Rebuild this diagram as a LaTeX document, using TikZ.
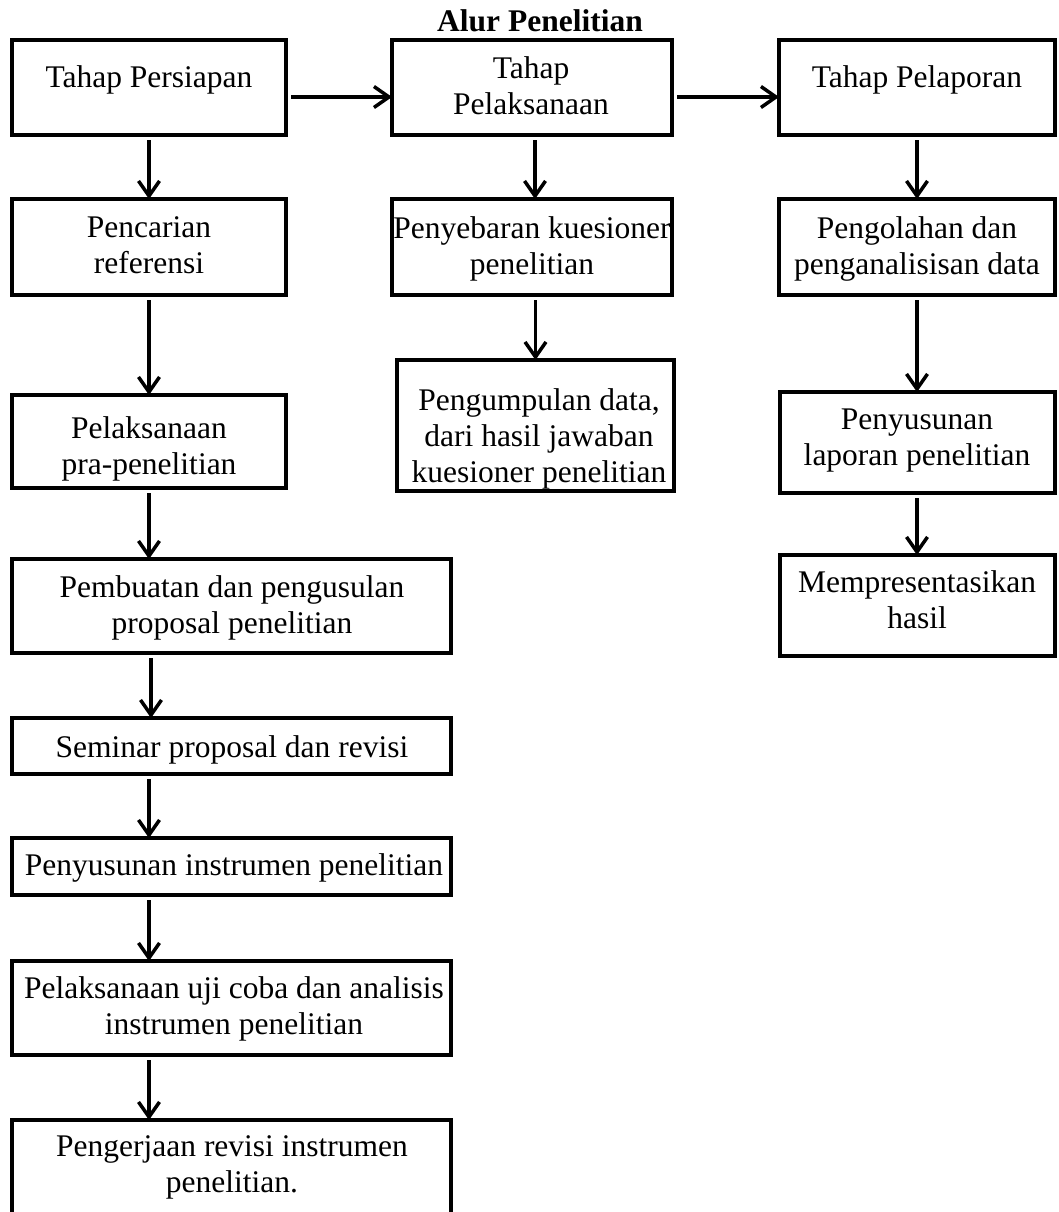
\documentclass[tikz,border=0pt]{standalone}
\usepackage{fontspec}
\setmainfont{Liberation Serif}
\usetikzlibrary{arrows.meta}
\begin{document}
\begin{tikzpicture}[x=1pt,y=-1pt,
  box/.style={draw, line width=4pt, inner sep=0pt, outer sep=0pt, rectangle},
  txt/.style={inner sep=0pt, align=center, font=\fontsize{31.5}{36}\selectfont,
    execute at begin node=\strut, execute at end node=\strut},
  ttl/.style={inner sep=0pt, font=\fontsize{31.5}{36}\selectfont\bfseries},
  arr/.style={line width=3.5pt, -{Straight Barb[length=15pt,width=21pt]}, shorten <=5pt}]
\useasboundingbox (0,0) rectangle (1058,1212);

% title
\node[ttl] (title) at (540,20.5) {Alur Penelitian};

% texts
\node[txt] (t1) at (149,80.8) {Tahap Persiapan};
\node[txt] (t2) at (149,250.8) {Pencarian\\referensi};
\node[txt] (t3) at (149,451) {Pelaksanaan\\pra-penelitian};
\node[txt] (t4) at (232,610.3) {Pembuatan dan pengusulan\\proposal penelitian};
\node[txt] (t5) at (232,749.8) {Seminar proposal dan revisi};
\node[txt] (t6) at (234,867.8) {Penyusunan instrumen penelitian};
\node[txt] (t7) at (234,1010.8) {Pelaksanaan uji coba dan analisis\\instrumen penelitian};
\node[txt] (t8) at (232,1169.3) {Pengerjaan revisi instrumen\\penelitian.};
\node[txt] (u1) at (531,90.8) {Tahap\\Pelaksanaan};
\node[txt] (u2) at (532,250.8) {Penyebaran kuesioner\\penelitian};
\node[txt] (u3) at (539,440.5) {Pengumpulan data,\\dari hasil jawaban\\kuesioner penelitian};
\node[txt] (v1) at (917,80.8) {Tahap Pelaporan};
\node[txt] (v2) at (917,250.8) {Pengolahan dan\\penganalisisan data};
\node[txt] (v3) at (917,442.8) {Penyusunan\\laporan penelitian};
\node[txt] (v4) at (917,605.3) {Mempresentasikan\\hasil};

% boxes
\node[box, minimum width=274pt, minimum height=95pt] (b1) at (149,87.5) {};
\node[box, minimum width=274pt, minimum height=96pt] (b2) at (149,247) {};
\node[box, minimum width=274pt, minimum height=93pt] (b3) at (149,441.5) {};
\node[box, minimum width=439pt, minimum height=94pt] (b4) at (231.5,606) {};
\node[box, minimum width=439pt, minimum height=56pt] (b5) at (231.5,746) {};
\node[box, minimum width=439pt, minimum height=57pt] (b6) at (231.5,866.5) {};
\node[box, minimum width=439pt, minimum height=94pt] (b7) at (231.5,1008) {};
\node[box, minimum width=439pt, minimum height=110pt] (b8) at (231.5,1175) {};
\node[box, minimum width=280pt, minimum height=95pt] (c1) at (532,87.5) {};
\node[box, minimum width=280pt, minimum height=96pt] (c2) at (532,247) {};
\node[box, minimum width=277pt, minimum height=131pt] (c3) at (535.5,425.5) {};
\node[box, minimum width=276pt, minimum height=95pt] (r1) at (917,87.5) {};
\node[box, minimum width=276pt, minimum height=96pt] (r2) at (917,247) {};
\node[box, minimum width=275pt, minimum height=101pt] (r3) at (917,442.5) {};
\node[box, minimum width=275pt, minimum height=101pt] (r4) at (917,605.5) {};

% horizontal arrows
\draw[arr] ([yshift=-9.5pt]b1.east) -- ([yshift=-9.5pt]c1.west);
\draw[arr] ([yshift=-9.5pt]c1.east) -- ([yshift=-9.5pt]r1.west);

% left column
\draw[arr] (b1.south) -- (b2.north);
\draw[arr] (b2.south) -- (b3.north);
\draw[arr] (b3.south) -- (b3.south |- b4.north);
\draw[arr] ([xshift=2pt]b4.south -| b1.south) -- ([xshift=2pt]b5.north -| b1.south);
\draw[arr] (b5.south -| b1.south) -- (b6.north -| b1.south);
\draw[arr] (b6.south -| b1.south) -- (b7.north -| b1.south);
\draw[arr] (b7.south -| b1.south) -- (b8.north -| b1.south);

% middle column
\draw[arr] ([xshift=3pt]c1.south) -- ([xshift=3pt]c2.north);
\draw[arr] (c2.south -| c3.north) -- (c3.north);

% right column
\draw[arr] (r1.south) -- (r2.north);
\draw[arr] (r2.south) -- (r3.north);
\draw[arr] (r3.south) -- (r4.north);
\end{tikzpicture}
\end{document}
